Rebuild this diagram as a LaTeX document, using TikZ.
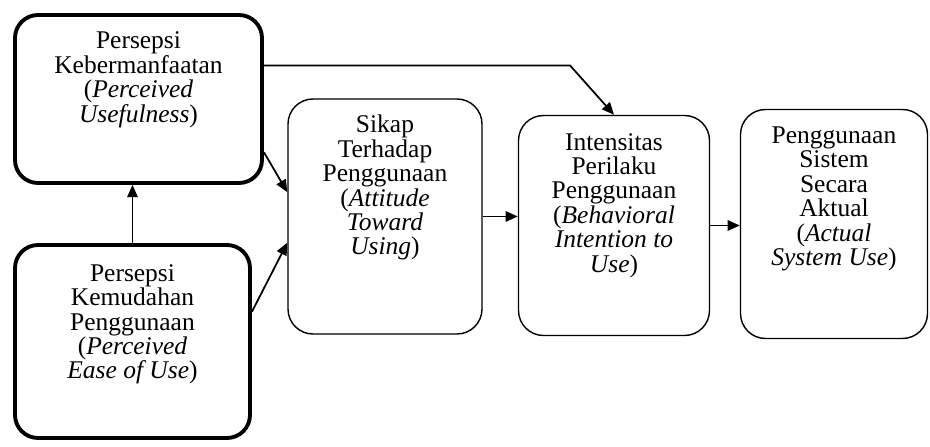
\documentclass[tikz,border=0pt]{standalone}
\usepackage{fontspec}
\setmainfont{Liberation Serif}
\usetikzlibrary{arrows.meta,positioning}
\tikzset{
  diagram/.style={font=\fontsize{14.5pt}{13.9pt}\selectfont,text=black,>={Triangle[length=7pt,width=6pt]}},
  heavybox/.style={draw,line width=2.2pt,rounded corners=4.6mm},
  lightbox/.style={draw,line width=0.8pt,rounded corners=5mm},
  boxtext/.style={align=center,inner sep=0pt},
  relation/.style={->,line width=1pt},
}

\begin{document}
\begin{tikzpicture}[diagram]
  \useasboundingbox (0,0) rectangle (18.6,8.92);

  % boxes
  \node[heavybox,minimum width=4.94cm,minimum height=3.36cm] (pu) at (2.77,6.94) {};
  \node[heavybox,minimum width=4.70cm,minimum height=3.86cm] (peou) at (2.65,2.09) {};
  \node[lightbox,minimum width=3.88cm,minimum height=4.70cm] (atu) at (7.70,4.59) {};
  \node[lightbox,minimum width=3.82cm,minimum height=4.40cm] (bi) at (12.28,4.41) {};
  \node[lightbox,minimum width=3.74cm,minimum height=4.58cm] (asu) at (16.68,4.44) {};

  % texts
  \node[boxtext,below=0.37cm of pu.north] (putext)
    {Persepsi\\Kebermanfaatan\\(\textit{Perceived}\\\textit{Usefulness})};
  \node[boxtext,below=0.42cm of peou.north] (peoutext)
    {Persepsi\\Kemudahan\\Penggunaan\\(\textit{Perceived}\\\textit{Ease of Use})};
  \node[boxtext,below=0.33cm of atu.north] (atutext)
    {Sikap\\Terhadap\\Penggunaan\\(\textit{Attitude}\\\textit{Toward}\\\textit{Using})};
  \node[boxtext,below=0.36cm of bi.north] (bitext)
    {Intensitas\\Perilaku\\Penggunaan\\(\textit{Behavioral}\\\textit{Intention to}\\\textit{Use})};
  \node[boxtext,below=0.35cm of asu.north] (asutext)
    {Penggunaan\\Sistem\\Secara\\Aktual\\(\textit{Actual}\\\textit{System Use})};

  % connectors
  \coordinate (bend) at (11.40,7.6);
  \draw[relation] (peou.north) -- (peou.north |- pu.south);
  \draw[relation] (pu.-23) -- (atu.166);
  \draw[relation] (peou.14) -- (atu.195);
  \draw[relation] (atu.east) -- (atu.east -| bi.west);
  \draw[relation] (bi.east) -- (bi.east -| asu.west);
  \draw[relation] (pu.15) -- (pu.15 -| bend) -- (bi.north);
\end{tikzpicture}
\end{document}
